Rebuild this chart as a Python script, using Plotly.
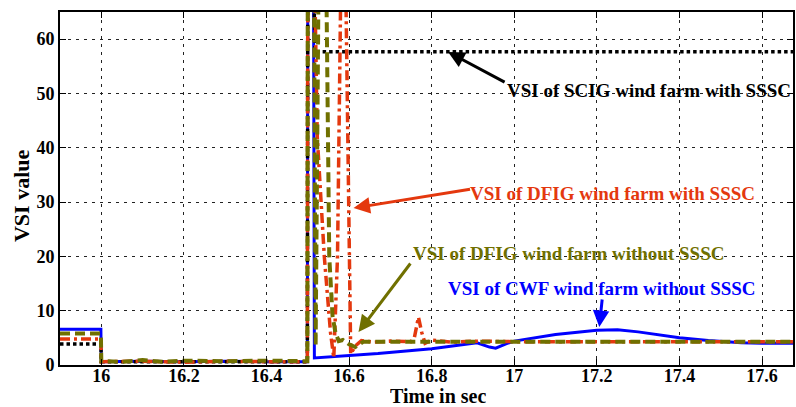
import plotly.graph_objects as go

# ---------------- data ----------------
t_cwf = [15.9, 15.999, 16.0, 16.1, 16.2, 16.3, 16.4, 16.499, 16.5, 16.514, 16.516,
         16.6, 16.67, 16.8, 16.88, 16.91, 16.94, 16.955, 16.98, 17.0, 17.1, 17.2,
         17.25, 17.3, 17.4, 17.47, 17.55, 17.6, 17.675]
v_cwf = [6.6, 6.6, 0.6, 0.7, 0.6, 0.7, 0.6, 0.6, 70, 70, 1.3,
         1.7, 2.1, 3.0, 3.8, 4.1, 3.3, 3.1, 3.9, 4.4, 5.6, 6.4,
         6.5, 6.1, 5.0, 4.5, 4.1, 4.0, 4.0]

t_scig = [15.9, 15.999, 16.0, 16.499, 16.5, 16.514, 16.518, 17.675]
v_scig = [3.85, 3.85, 0.6, 0.6, 70, 70, 57.7, 57.7]

t_dfig_s = [15.9, 15.999, 16.0, 16.1, 16.2, 16.3, 16.4, 16.499, 16.5, 16.517,
            16.523, 16.54, 16.555, 16.563, 16.572, 16.58, 16.592, 16.604, 16.615,
            16.63, 16.66, 16.7, 16.75, 16.758, 16.768, 16.776, 16.784, 16.8,
            16.85, 16.9, 17.0, 17.675]
v_dfig_s = [4.8, 4.8, 0.6, 0.7, 0.5, 0.7, 0.6, 0.6, 70, 70,
            42, 20, 6, 1.3, 20, 70, 70, 2.0, 3.5,
            4.5, 4.2, 4.4, 4.3, 5.0, 8.8, 6.0, 4.0, 4.6,
            4.2, 4.4, 4.3, 4.3]

t_dfig_ns = [15.9, 15.999, 16.0, 16.05, 16.1, 16.15, 16.2, 16.3, 16.4, 16.499,
             16.5, 16.515, 16.519, 16.526, 16.545, 16.552, 16.56, 16.567, 16.575,
             16.585, 16.6, 16.615, 16.635, 16.7, 17.0, 17.675]
v_dfig_ns = [5.8, 5.8, 0.7, 0.6, 0.9, 0.6, 0.8, 0.7, 0.8, 0.7,
             70, 70, 3.5, 70, 70, 20, 9, 6, 4.4,
             4.6, 3.8, 3.3, 4.3, 4.3, 4.3, 4.3]

x_ticks = [16, 16.2, 16.4, 16.6, 16.8, 17, 17.2, 17.4, 17.6]
x_tick_text = ["16", "16.2", "16.4", "16.6", "16.8", "17", "17.2", "17.4", "17.6"]
y_ticks = [0, 10, 20, 30, 40, 50, 60]
y_tick_text = ["0", "10", "20", "30", "40", "50", "60"]

BLUE = "#0000FF"
RED = "#E4380E"
OLIVE = "#707000"
BLACK = "#000000"
FONT = "Liberation Serif"

fig = go.Figure()
fig.add_trace(go.Scatter(x=t_cwf, y=v_cwf, mode="lines",
                         line=dict(color=BLUE, width=3)))
fig.add_trace(go.Scatter(x=t_scig, y=v_scig, mode="lines",
                         line=dict(color=BLACK, width=3.5, dash="3.5px,3px")))
fig.add_trace(go.Scatter(x=t_dfig_s, y=v_dfig_s, mode="lines",
                         line=dict(color=RED, width=3.5, dash="10px,4px,3px,4px")))
fig.add_trace(go.Scatter(x=t_dfig_ns, y=v_dfig_ns, mode="lines",
                         line=dict(color=OLIVE, width=4, dash="10px,5px")))

ann_font = dict(family=FONT, size=19, weight="bold")
annotations = [
    # texts
    dict(x=17.327, y=50.6, text="VSI of SCIG wind farm with SSSC", showarrow=False,
         xanchor="center", yanchor="middle", font=dict(color=BLACK, **ann_font)),
    dict(x=17.2386, y=31.6, text="VSI of DFIG wind farm with SSSC", showarrow=False,
         xanchor="center", yanchor="middle", font=dict(color=RED, **ann_font)),
    dict(x=17.131, y=20.5, text="VSI of DFIG wind farm without SSSC", showarrow=False,
         xanchor="center", yanchor="middle", font=dict(color=OLIVE, **ann_font)),
    dict(x=17.213, y=14.1, text="VSI of CWF wind farm without SSSC", showarrow=False,
         xanchor="center", yanchor="middle", font=dict(color=BLUE, **ann_font)),
    # arrows
    dict(x=16.8398, y=57.64, text="", showarrow=True, ax=58, ay=31,
         arrowcolor=BLACK, arrowwidth=3, arrowhead=2, arrowsize=1.1),
    dict(x=16.6108, y=28.9, text="", showarrow=True, ax=118, ay=-19,
         arrowcolor=RED, arrowwidth=3, arrowhead=2, arrowsize=1.1),
    dict(x=16.6229, y=6.08, text="", showarrow=True, ax=53, ay=-70,
         arrowcolor=OLIVE, arrowwidth=3, arrowhead=2, arrowsize=1.1),
    dict(x=17.206, y=7.0, text="", showarrow=True, ax=3, ay=-29,
         arrowcolor=BLUE, arrowwidth=3, arrowhead=2, arrowsize=1.1),
    # axis titles
    dict(xref="paper", yref="paper", x=0.5156, y=-0.1185, text="Time in sec",
         xanchor="center", yanchor="bottom", height=20, valign="middle", borderpad=0,
         showarrow=False, font=dict(family=FONT, size=20, weight="bold", color="black")),
    dict(xref="paper", yref="paper", x=-0.0517, y=0.479, text="VSI value", textangle=-90,
         xanchor="center", yanchor="middle",
         showarrow=False, font=dict(family=FONT, size=22, weight="bold", color="black")),
]

axis_common = dict(
    showline=True, linecolor="black", linewidth=2, mirror="ticks",
    ticks="inside", ticklen=6, tickcolor="black", tickwidth=1,
    showgrid=True, gridcolor="#222222", gridwidth=1, griddash="3px,5px",
    zeroline=False,
    tickfont=dict(family=FONT, size=18, weight="bold", color="black"),
)

fig.update_layout(
    width=796, height=407,
    margin=dict(l=60, r=1, t=12, b=42),
    paper_bgcolor="white", plot_bgcolor="white",
    showlegend=False,
    annotations=annotations,
    xaxis=dict(range=[15.9, 17.675], tickvals=x_ticks, ticktext=x_tick_text,
               ticklabelstandoff=-7, **axis_common),
    yaxis=dict(range=[0, 65], tickvals=y_ticks, ticktext=y_tick_text, **axis_common),
)

fig.write_html("out.html")
